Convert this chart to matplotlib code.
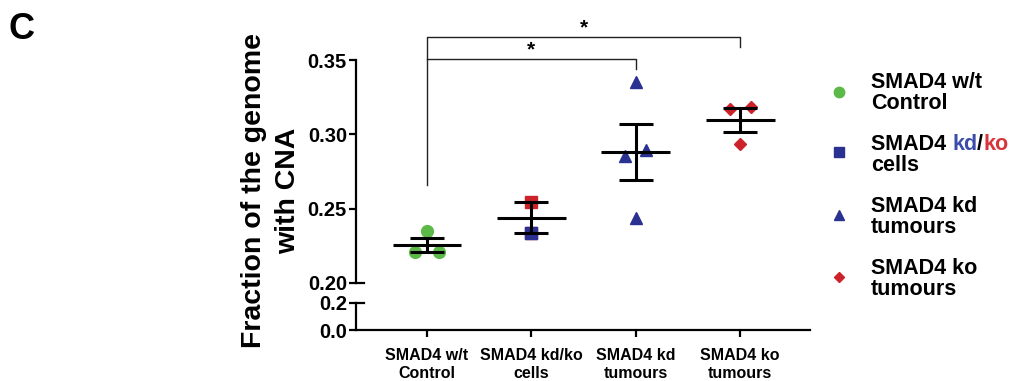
import numpy as np
import matplotlib
matplotlib.use("Agg")
import matplotlib.pyplot as plt

plt.rcParams['font.family'] = ['Liberation Sans', 'DejaVu Sans']
plt.rcParams['font.weight'] = 'bold'

# data
groups = ['SMAD4 w/t\nControl', 'SMAD4 kd/ko\ncells', 'SMAD4 kd\ntumours', 'SMAD4 ko\ntumours']
control = [0.235, 0.221, 0.221]
cells = [0.2542, 0.2336]
kd_tumours = [0.3355, 0.2852, 0.2893, 0.2436]
ko_tumours = [0.3168, 0.3181, 0.2933]

green = '#5BB947'
blue = '#2B3190'
red = '#CC2229'

fig = plt.figure(figsize=(10.11, 3.81), dpi=100)
W, H = 1011, 381
ax = fig.add_axes([356 / W, 1 - 283 / H, (810 - 356) / W, (283 - 60) / H])
axb = fig.add_axes([356 / W, 1 - 330 / H, (810 - 356) / W, (330 - 303) / H])

xlim = (-0.68, 3.67)
for a in (ax, axb):
    a.set_xlim(*xlim)
    a.patch.set_alpha(0)
    for s in ['top', 'right']:
        a.spines[s].set_visible(False)
    a.spines['left'].set_linewidth(1.6)
    a.tick_params(axis='y', length=5, width=1.6, pad=1.5, labelsize=14.5)
ax.spines['bottom'].set_visible(False)
ax.set_xticks([])
ax.set_ylim(0.20, 0.35)
ax.set_yticks([0.20, 0.25, 0.30, 0.35])
ax.set_yticklabels(['0.20', '0.25', '0.30', '0.35'])

axb.set_ylim(0, 0.2)
axb.set_yticks([0.0, 0.2])
axb.set_yticklabels(['0.0', '0.2'])
axb.spines['bottom'].set_linewidth(1.6)
axb.set_xticks(range(4))
axb.set_xticklabels(groups, fontsize=11.5, linespacing=1.25)
axb.tick_params(axis='x', length=5, width=1.6, pad=8)

# axis break caps
ax.plot([0, 0.018], [0, 0], transform=ax.transAxes, color='k', lw=1.6, clip_on=False)
axb.plot([0, 0.018], [1, 1], transform=axb.transAxes, color='k', lw=1.6, clip_on=False)

# points
jit3 = [0, -0.115, 0.115]
ax.plot(np.zeros(3) + jit3, control, 'o', color=green, ms=8.5, zorder=2)
ax.plot([1, 1], cells, 's', color=red, ms=8.5, zorder=2)
ax.plot([1], cells[1:], 's', color=blue, ms=8.5, zorder=2)
ax.plot(2 + np.array([0, -0.1, 0.1, 0]), kd_tumours, '^', color=blue, ms=8.5, zorder=2)
ax.plot(3 + np.array([-0.1, 0.1, 0]), ko_tumours, 'D', color=red, ms=6.5, zorder=2)

# mean +/- SEM
for i, vals in enumerate([control, cells, kd_tumours, ko_tumours]):
    v = np.array(vals)
    m = v.mean()
    sem = v.std(ddof=1) / np.sqrt(len(v))
    ax.hlines(m, i - 0.33, i + 0.33, color='k', lw=2.2, zorder=3)
    ax.errorbar(i, m, yerr=sem, fmt='none', ecolor='k', elinewidth=2.2,
                capsize=12, capthick=2.2, zorder=3)

# significance brackets
ax.plot([0, 0, 3, 3], [0.2658, 0.3654, 0.3654, 0.3587], color='#222222', lw=1, clip_on=False)
ax.plot([0, 2, 2], [0.3507, 0.3507, 0.344], color='#222222', lw=1, clip_on=False)
ax.text(1.5, 0.3654, '*', ha='center', va='bottom', fontsize=15, clip_on=False)
ax.text(1.0, 0.3507, '*', ha='center', va='bottom', fontsize=15, clip_on=False)

fig.text(271 / W, 1 - 191 / H, 'Fraction of the genome\nwith CNA', rotation=90,
         ha='center', va='center', fontsize=20.5, linespacing=1.38)
fig.text(8 / W, 1 - 39 / H, 'C', fontsize=26, ha='left', va='baseline')

# legend
lx, tx = 839 / W, 871 / W
marks = [('o', green, 7.5), ('s', blue, 7), ('^', blue, 7.5), ('D', red, 5.5)]
mys = [92, 152, 215, 277]
base = [88, 150, 212, 274]
lines2 = ['Control', 'cells', 'tumours', 'tumours']
lines1 = ['SMAD4 w/t', None, 'SMAD4 kd', 'SMAD4 ko']
for (mk, c, ms), my, b, l1, l2 in zip(marks, mys, base, lines1, lines2):
    fig.lines.append(plt.Line2D([lx], [1 - my / H], marker=mk, color=c, ms=ms,
                                transform=fig.transFigure))
    if l1 is not None:
        fig.text(tx, 1 - b / H, l1, fontsize=15.5, va='baseline')
    fig.text(tx, 1 - (b + 21) / H, l2, fontsize=15.5, va='baseline')

t1 = fig.text(tx, 1 - 150 / H, 'SMAD4 ', fontsize=15.5, va='baseline')
t2 = fig.text(0, 0, 'kd', fontsize=15.5, color='#3A4DAA')
t3 = fig.text(0, 0, '/', fontsize=15.5)
t4 = fig.text(0, 0, 'ko', fontsize=15.5, color='#D8343C')
fig.canvas.draw()
r = fig.canvas.get_renderer()
x = t1.get_window_extent(r).x1
for t in (t2, t3, t4):
    t.set_position((x / W, 1 - 150 / H))
    t.set_va('baseline')
    x = t.get_window_extent(r).x1

fig.savefig('out.png', dpi=100)
